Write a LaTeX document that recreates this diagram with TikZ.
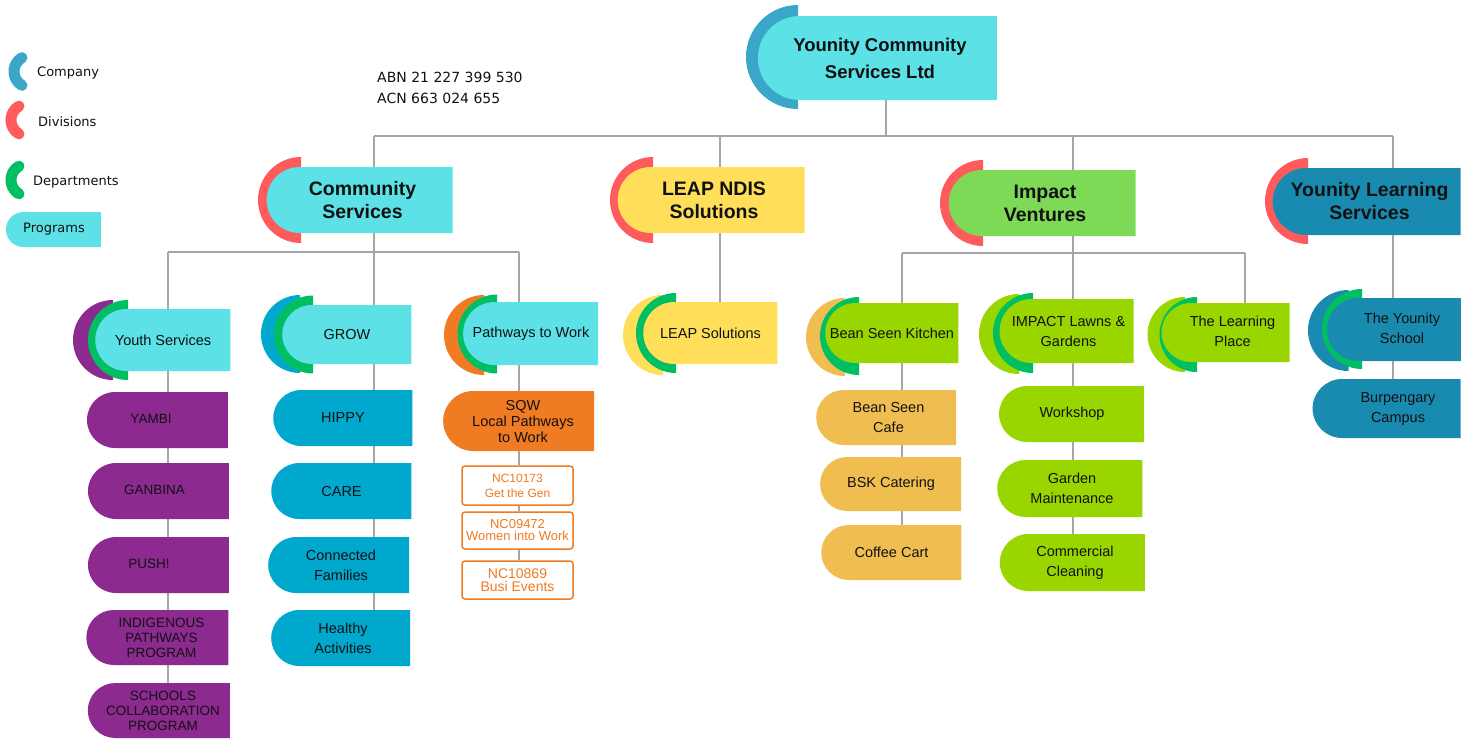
\documentclass[tikz,border=0pt]{standalone}
\usepackage{fontspec}
\setmainfont{Liberation Sans}
\newfontfamily\legfont{DejaVu Sans}
\usetikzlibrary{shapes.misc,backgrounds}
\definecolor{cyanP}{HTML}{5CE1E6}
\definecolor{compB}{HTML}{3AA7C9}
\definecolor{redD}{HTML}{FF5A5C}
\definecolor{greenD}{HTML}{00BF63}
\definecolor{yellowP}{HTML}{FFDE59}
\definecolor{impG}{HTML}{7ED957}
\definecolor{limeP}{HTML}{99D600}
\definecolor{tealP}{HTML}{1A8BB0}
\definecolor{purpleP}{HTML}{8C2A8F}
\definecolor{blueP}{HTML}{00A8CE}
\definecolor{orangeP}{HTML}{F07B22}
\definecolor{goldP}{HTML}{F0BE50}
\definecolor{connG}{HTML}{A6A6A6}
\definecolor{ink}{HTML}{111111}
\newcommand\cres[4]{\fill[#1] (#2,#3+#4) arc[start angle=90,end angle=270,radius=#4] -- cycle;}
% shifted label: #1 = twice the horizontal shift
\newcommand\sx[2]{\hbox to 0pt{\hss\kern#1pt\begin{tabular}{@{}c@{}}#2\end{tabular}\hss}}
\begin{document}
\begin{tikzpicture}[x=1pt,y=-1pt,
  shp/.style={rounded rectangle, rounded rectangle right arc=none, inner sep=0pt, outer sep=0pt, text=ink, align=center},
  divbox/.style={shp, font=\bfseries\fontsize{19.5}{23}\selectfont},
  depbox/.style={shp, font=\fontsize{14.5}{20}\selectfont},
  capbox/.style={shp, font=\fontsize{13.5}{15}\selectfont},
  ncbox/.style={draw=orangeP, line width=1.5pt, fill=white, rounded corners=3pt, inner sep=0pt, text=orangeP, align=center, minimum width=111pt},
  conn/.style={draw=connG, line width=1.7pt},
  legarc/.style={line width=11pt, line cap=round},
  legtext/.style={font=\legfont\fontsize{13}{15}\selectfont, text=ink, anchor=west, inner sep=0pt},
  abntext/.style={font=\legfont\fontsize{14}{16}\selectfont, text=ink, anchor=west, inner sep=0pt}]
\useasboundingbox (0,0) rectangle (1475,740);

% ---------- legend ----------
\draw[legarc, compB] (30,71.5) ++(120:16) arc[start angle=120, end angle=240, radius=16];
\draw[legarc, redD] (27,120) ++(120:16) arc[start angle=120, end angle=240, radius=16];
\draw[legarc, greenD] (27,180) ++(120:16) arc[start angle=120, end angle=240, radius=16];
\node[legtext] (lgc) at (37,73) {Company};
\node[legtext] (lgd) at (38,122) {Divisions};
\node[legtext] (lgp) at (33,182) {Departments};
\node[shp, fill=cyanP, minimum width=95pt, minimum height=35pt, font=\legfont\fontsize{13}{15}\selectfont] (lgr) at (54,229.5) {Programs};

\node[abntext] (abn) at (377,77) {ABN 21 227 399 530};
\node[abntext] (acn) at (377,98) {ACN 663 024 655};

% ---------- crescents ----------
\cres{compB}{798}{57}{52}
\cres{redD}{301}{200}{43}
\cres{redD}{653}{200}{43}
\cres{redD}{983}{203}{43}
\cres{redD}{1308}{201}{43}
\cres{purpleP}{113}{340}{40}
\cres{greenD}{128}{340}{40}
\cres{blueP}{300}{334}{39}
\cres{greenD}{313}{334.5}{39}
\cres{orangeP}{484}{335}{40}
\cres{greenD}{497}{334}{39.5}
\cres{yellowP}{663}{335}{40}
\cres{greenD}{676}{333}{40}
\cres{goldP}{845}{337}{39}
\cres{greenD}{859}{336}{39}
\cres{limeP}{1019}{334}{40}
\cres{greenD}{1033}{333}{40}
\cres{limeP}{1185}{334.5}{37.5}
\cres{greenD}{1197}{334.5}{37.5}
\cres{tealP}{1348.5}{330.5}{40.5}
\cres{greenD}{1362}{329}{40}

% ---------- company & divisions ----------
\node[shp, fill=cyanP, minimum width=239pt, minimum height=84pt, font=\bfseries\fontsize{18.5}{27}\selectfont] (top) at (880,58) {Younity Community\\Services Ltd};
\node[divbox, fill=cyanP, minimum width=186pt, minimum height=66pt] (cs) at (362.5,200) {Community\\Services};
\node[divbox, fill=yellowP, minimum width=187pt, minimum height=66pt] (ln) at (714,200) {LEAP NDIS\\Solutions};
\node[divbox, fill=impG, minimum width=187pt, minimum height=66pt] (iv) at (1045,203) {Impact\\Ventures};
\node[divbox, fill=tealP, minimum width=188pt, minimum height=67pt] (yl) at (1369.5,201.5) {Younity Learning\\Services};

% ---------- departments ----------
\node[depbox, fill=cyanP, minimum width=135pt, minimum height=62pt] (ys) at (163,340) {Youth Services};
\node[depbox, fill=cyanP, minimum width=129pt, minimum height=59pt] (grow) at (347,334.5) {GROW};
\node[depbox, fill=cyanP, minimum width=135pt, minimum height=63pt] (ptw) at (531,333.5) {Pathways to Work};
\node[depbox, fill=yellowP, minimum width=134pt, minimum height=62pt] (ls) at (710.5,333) {LEAP Solutions};
\node[depbox, fill=limeP, minimum width=133pt, minimum height=60pt] (bsk) at (892,333) {Bean Seen Kitchen};
\node[depbox, fill=limeP, minimum width=134pt, minimum height=64pt] (ilg) at (1068.5,331) {IMPACT Lawns \&\\Gardens};
\node[depbox, fill=limeP, minimum width=128pt, minimum height=59pt] (tlp) at (1229.5,332.5) {\sx{6}{The Learning\\Place}};
\node[depbox, fill=tealP, minimum width=134pt, minimum height=63pt] (tys) at (1397.5,329.5) {\sx{9}{The Younity\\School}};

% ---------- programs ----------
\node[capbox, fill=purpleP, minimum width=141pt, minimum height=56pt] (yambi) at (158,420) {\sx{-14}{YAMBI}};
\node[capbox, fill=purpleP, minimum width=141pt, minimum height=56pt] (ganb) at (159,491) {\sx{-9}{GANBINA}};
\node[capbox, fill=purpleP, minimum width=141pt, minimum height=56pt] (push) at (159,565) {\sx{-20}{PUSH!}};
\node[capbox, fill=purpleP, minimum width=142pt, minimum height=55pt] (indig) at (161.5,637.5) {INDIGENOUS\\PATHWAYS\\PROGRAM};
\node[capbox, fill=purpleP, minimum width=142pt, minimum height=55pt] (schl) at (163,710.5) {SCHOOLS\\COLLABORATION\\PROGRAM};

\node[depbox, fill=blueP, minimum width=139pt, minimum height=56pt] (hippy) at (343,418) {HIPPY};
\node[depbox, fill=blueP, minimum width=140pt, minimum height=56pt] (care) at (341.5,491) {CARE};
\node[depbox, fill=blueP, minimum width=141pt, minimum height=56pt] (cf) at (341,565) {Connected\\Families};
\node[depbox, fill=blueP, minimum width=139pt, minimum height=56pt] (ha) at (343,638) {Healthy\\Activities};

\node[shp, fill=orangeP, minimum width=151pt, minimum height=60pt, font=\fontsize{14.5}{16}\selectfont] (sqw) at (523,421) {SQW\\Local Pathways\\to Work};
\node[ncbox, minimum height=39pt, font=\fontsize{12}{15}\selectfont] (nc1) at (517.5,485.5) {NC10173\\Get the Gen};
\node[ncbox, minimum height=37pt, font=\fontsize{13}{12}\selectfont] (nc2) at (517.5,530.5) {NC09472\\Women into Work};
\node[ncbox, minimum height=38pt, font=\fontsize{14}{13}\selectfont] (nc3) at (517.5,580) {NC10869\\Busi Events};

\node[depbox, fill=goldP, minimum width=140pt, minimum height=55pt] (bsc) at (888.5,417.5) {Bean Seen\\Cafe};
\node[depbox, fill=goldP, minimum width=141pt, minimum height=54pt] (bskc) at (891,484) {BSK Catering};
\node[depbox, fill=goldP, minimum width=140pt, minimum height=55pt] (cc) at (891.5,552.5) {Coffee Cart};

\node[depbox, fill=limeP, minimum width=145pt, minimum height=56pt] (ws) at (1072,414) {Workshop};
\node[depbox, fill=limeP, minimum width=145pt, minimum height=57pt] (gm) at (1072,488.5) {Garden\\Maintenance};
\node[depbox, fill=limeP, minimum width=145pt, minimum height=57pt] (ccl) at (1075,562.5) {Commercial\\Cleaning};

\node[depbox, fill=tealP, minimum width=148pt, minimum height=59pt] (bc) at (1390.5,408.5) {\sx{15}{Burpengary\\Campus}};

% ---------- connectors ----------
\coordinate (jT) at (886,136);
\coordinate (jA1) at (374,136);
\coordinate (jA2) at (720,136);
\coordinate (jA3) at (1073,136);
\coordinate (jA4) at (1393,136);
\coordinate (jB1) at (168,252);
\coordinate (jB2) at (374,252);
\coordinate (jB3) at (519,252);
\coordinate (jC1) at (902,253);
\coordinate (jC2) at (1073,253);
\coordinate (jC3) at (1245,253);
\begin{pgfonlayer}{background}
\draw[conn] (top.south -| jT) -- (jT);
\draw[conn] (jA1) -- (jA4);
\draw[conn] (jA1) -- (cs.north -| jA1);
\draw[conn] (jA2) -- (ln.north -| jA2);
\draw[conn] (jA3) -- (iv.north -| jA3);
\draw[conn] (jA4) -- (yl.north -| jA4);
% community services
\draw[conn] (cs.south -| jB2) -- (jB2);
\draw[conn] (jB1) -- (jB3);
\draw[conn] (jB1) -- (ys.north -| jB1);
\draw[conn] (jB2) -- (grow.north -| jB2);
\draw[conn] (jB3) -- (ptw.north -| jB3);
\draw[conn] (ys.south -| jB1) -- (yambi.north -| jB1);
\draw[conn] (yambi.south -| jB1) -- (ganb.north -| jB1);
\draw[conn] (ganb.south -| jB1) -- (push.north -| jB1);
\draw[conn] (push.south -| jB1) -- (indig.north -| jB1);
\draw[conn] (indig.south -| jB1) -- (schl.north -| jB1);
\draw[conn] (grow.south -| jB2) -- (hippy.north -| jB2);
\draw[conn] (hippy.south -| jB2) -- (care.north -| jB2);
\draw[conn] (care.south -| jB2) -- (cf.north -| jB2);
\draw[conn] (cf.south -| jB2) -- (ha.north -| jB2);
\draw[conn] (ptw.south -| jB3) -- (sqw.north -| jB3);
\draw[conn] (sqw.south -| jB3) -- (nc1.north -| jB3);
\draw[conn] (nc1.south -| jB3) -- (nc2.north -| jB3);
\draw[conn] (nc2.south -| jB3) -- (nc3.north -| jB3);
% leap
\draw[conn] (ln.south -| jA2) -- (ls.north -| jA2);
% impact
\draw[conn] (iv.south -| jC2) -- (jC2);
\draw[conn] (jC1) -- (jC3);
\draw[conn] (jC1) -- (bsk.north -| jC1);
\draw[conn] (jC2) -- (ilg.north -| jC2);
\draw[conn] (jC3) -- (tlp.north -| jC3);
\draw[conn] (bsk.south -| jC1) -- (bsc.north -| jC1);
\draw[conn] (bsc.south -| jC1) -- (bskc.north -| jC1);
\draw[conn] (bskc.south -| jC1) -- (cc.north -| jC1);
\draw[conn] (ilg.south -| jC2) -- (ws.north -| jC2);
\draw[conn] (ws.south -| jC2) -- (gm.north -| jC2);
\draw[conn] (gm.south -| jC2) -- (ccl.north -| jC2);
% learning services
\draw[conn] (yl.south -| jA4) -- (tys.north -| jA4);
\draw[conn] (tys.south -| jA4) -- (bc.north -| jA4);
\end{pgfonlayer}
\end{tikzpicture}
\end{document}
